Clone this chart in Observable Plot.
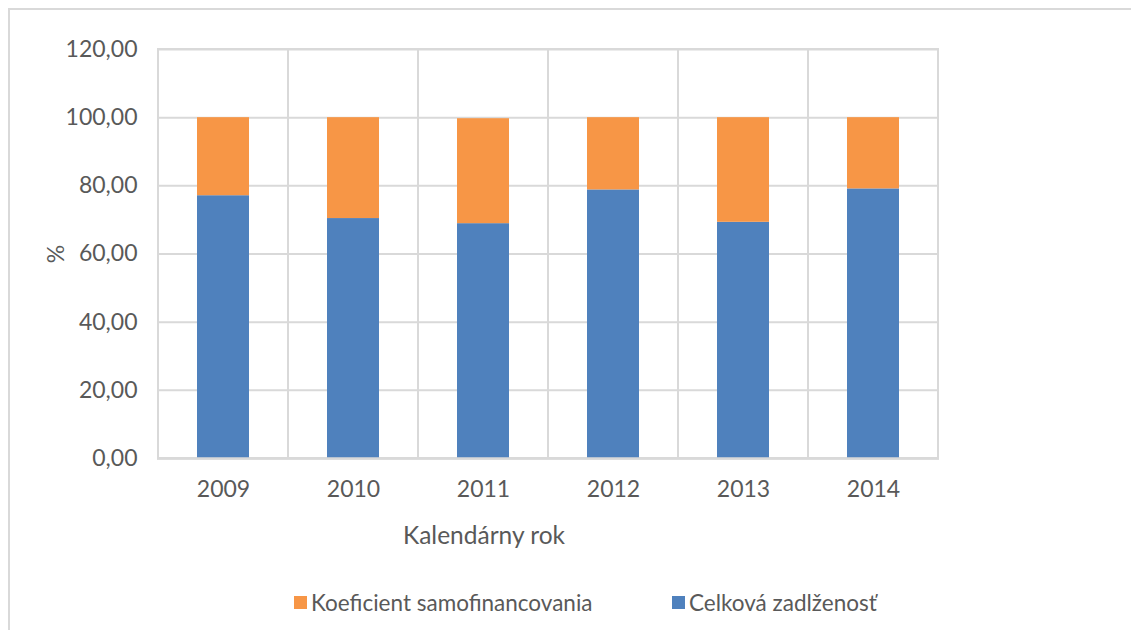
<!DOCTYPE html>
<html>
<head>
<meta charset="utf-8">
<script src="https://cdn.jsdelivr.net/npm/d3@7"></script>
<script src="https://cdn.jsdelivr.net/npm/@observablehq/plot@0.6"></script>
<style>
  html, body { margin: 0; padding: 0; background: #fff; }
  body { width: 1131px; height: 630px; position: relative; overflow: hidden; font-family: Lato, "Open Sans", sans-serif; color: #595959; }
  #frame { position: absolute; left: 8px; top: 8px; right: -10px; bottom: -10px; border-top: 2px solid #d9d9d9; border-left: 2px solid #d9d9d9; }
  #chart { position: absolute; left: 0; top: 0; }
  #xtitle { position: absolute; top: 520px; left: 484px; transform: translateX(-50%); font-size: 24.5px; white-space: nowrap; }
  #legend { position: absolute; top: 589px; left: 0; width: 1131px; font-size: 22.5px; }
  .item { position: absolute; top: 0; display: flex; align-items: center; white-space: nowrap; }
  .sw { width: 13px; height: 13px; margin-right: 4px; }
</style>
</head>
<body>
<div id="frame"></div>
<div id="chart"></div>
<div id="xtitle"></div>
<div id="legend"></div>
<script>
const years = ["2009", "2010", "2011", "2012", "2013", "2014"];
const celkovaZadlzenost = [77.1, 70.4, 68.9, 78.8, 69.3, 79.1];
const koeficientSamofinancovania = [22.9, 29.6, 30.8, 21.2, 30.7, 20.9];
const seriesNames = ["Celková zadlženosť", "Koeficient samofinancovania"];
const seriesColors = ["#4f81bd", "#f79646"];
const yTicks = [0, 20, 40, 60, 80, 100, 120];
const xTitle = "Kalendárny rok";
const yTitle = "%";

const rows = [];
years.forEach((y, i) => {
  rows.push({year: y, series: seriesNames[0], value: celkovaZadlzenost[i]});
  rows.push({year: y, series: seriesNames[1], value: koeficientSamofinancovania[i]});
});

const grid = "#d9d9d9";
const chart = Plot.plot({
  width: 1131,
  height: 630,
  marginLeft: 157,
  marginRight: 192,
  marginTop: 49,
  marginBottom: 172,
  style: {fontFamily: "Lato, 'Open Sans', sans-serif", fontSize: "23px", color: "#595959", background: "transparent"},
  x: {domain: years, padding: 0, label: null},
  y: {domain: [0, 120], label: null},
  color: {domain: seriesNames, range: seriesColors},
  marks: [
    Plot.barY(years, {x: d => d, y1: 0, y2: 120, fill: "none", stroke: grid, strokeWidth: 2, inset: 0}),
    Plot.ruleY(yTicks, {y: d => d, stroke: grid, strokeWidth: 2}),
    Plot.barY(rows, Plot.stackY({order: seriesNames, x: "year", y: "value", fill: "series", insetLeft: 39, insetRight: 39})),
    Plot.ruleY([0], {stroke: grid, strokeWidth: 2.5}),
    Plot.axisY({ticks: yTicks, tickSize: 0, tickPadding: 20, tickFormat: d => d.toFixed(2).replace(".", ","), label: yTitle, labelAnchor: "center", labelOffset: 110, labelArrow: "none", fontSize: 23}),
    Plot.axisX({tickSize: 0, tickPadding: 22, label: null, fontSize: 23})
  ]
});
document.getElementById("chart").appendChild(chart);
document.getElementById("xtitle").textContent = xTitle;

const legend = document.getElementById("legend");
const legendOrder = [1, 0];
const lefts = [294, 672];
legendOrder.forEach((si, k) => {
  const it = document.createElement("div");
  it.className = "item";
  it.style.left = lefts[k] + "px";
  const sw = document.createElement("div");
  sw.className = "sw";
  sw.style.background = seriesColors[si];
  const t = document.createElement("span");
  t.textContent = seriesNames[si];
  it.appendChild(sw); it.appendChild(t);
  legend.appendChild(it);
});
</script>
</body>
</html>
